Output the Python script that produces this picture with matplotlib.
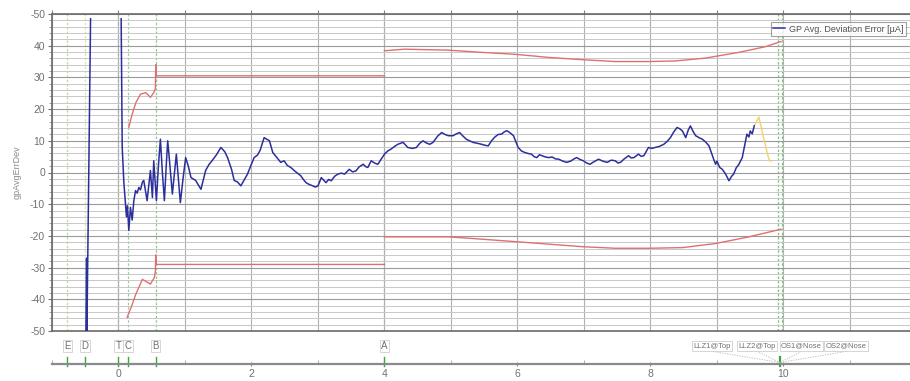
import numpy as np
import matplotlib
matplotlib.use('Agg')
import matplotlib.pyplot as plt
from matplotlib.ticker import MultipleLocator, FixedLocator
import matplotlib.transforms as mtransforms

plt.rcParams['font.family'] = ['Liberation Sans Narrow', 'Liberation Sans', 'DejaVu Sans']

nan = np.nan

# GP average deviation error trace (blue)
gp_x = [-0.49, -0.48, -0.475, -0.42, nan,
        0.04, 0.056, 0.08, 0.105, 0.12, 0.135, 0.155, 0.18, 0.206, 0.23, 0.256, 0.28, 0.306, 0.33, 0.36,
        0.38, 0.43, 0.48, 0.51, 0.53, 0.57, 0.6, 0.63, 0.66, 0.69, 0.72, 0.74, 0.77, 0.81, 0.87, 0.93,
        0.97, 1.01, 1.05, 1.09, 1.16, 1.24, 1.31, 1.36, 1.41, 1.47, 1.54, 1.6, 1.64, 1.7, 1.74, 1.79,
        1.84, 1.94, 1.99, 2.04, 2.09, 2.13, 2.19, 2.27, 2.32, 2.37, 2.44, 2.49, 2.54, 2.59, 2.66, 2.74,
        2.78, 2.82, 2.87, 2.92, 2.96, 3.0, 3.05, 3.09, 3.12, 3.16, 3.2, 3.25, 3.3, 3.35, 3.4, 3.47,
        3.52, 3.57, 3.62, 3.68, 3.72, 3.75, 3.8, 3.85, 3.9, 3.95, 4.0, 4.05, 4.1, 4.15, 4.2, 4.28,
        4.35, 4.42, 4.48, 4.53, 4.58, 4.63, 4.68, 4.73, 4.8, 4.86, 4.91, 4.96, 5.03, 5.08, 5.13, 5.18,
        5.23, 5.28, 5.33, 5.4, 5.46, 5.51, 5.56, 5.61, 5.66, 5.71, 5.76, 5.8, 5.84, 5.89, 5.94, 5.98,
        6.01, 6.06, 6.11, 6.16, 6.21, 6.25, 6.29, 6.33, 6.37, 6.42, 6.47, 6.52, 6.57, 6.62, 6.68, 6.74,
        6.8, 6.85, 6.89, 6.94, 6.99, 7.04, 7.09, 7.15, 7.22, 7.28, 7.35, 7.41, 7.47, 7.51, 7.55, 7.6,
        7.67, 7.71, 7.75, 7.82, 7.86, 7.9, 7.97, 8.02, 8.07, 8.13, 8.2, 8.25, 8.3, 8.35, 8.4, 8.44,
        8.48, 8.53, 8.57, 8.6, 8.64, 8.68, 8.73, 8.78, 8.83, 8.88, 8.92, 8.95, 8.98, 9.0, 9.04, 9.08,
        9.13, 9.18, 9.22, 9.25, 9.29, 9.33, 9.38, 9.42, 9.45, 9.48, 9.5, 9.53, 9.56]
gp_y = [-50, -27, -50, 48.5, nan,
        48.5, 7.9, -3, -10, -14, -10.5, -18.3, -11, -15, -9, -5.7, -6.5, -4.7, -5.5, -3,
        -2.5, -8.9, 0.6, -7.9, 3.7, -8.9, 2, 10.5, 0, -8.9, 3, 10, 3, -6.8, 5.8, -9.5,
        -2, 4.7, 2, -1.6, -2.5, -5.3, 0.6, 2.5, 3.8, 5.5, 7.9, 6.5, 4.7, 1, -2.5, -3,
        -4.2, -0.5, 2.2, 4.7, 5.5, 7, 11, 10, 6.3, 5, 3.2, 3.7, 2.2, 1.6, 0.3, -1,
        -2.2, -3.2, -3.8, -4.2, -4.6, -4.2, -1.6, -2.5, -3.2, -2.2, -2.6, -1.2, -0.5, -0.2, -0.5, 1,
        0.2, 0.5, 1.8, 2.6, 1.8, 1.6, 3.7, 3.0, 2.6, 4.2, 5.8, 6.8, 7.4, 8.2, 8.9, 9.5,
        7.9, 7.6, 7.9, 9.2, 10, 9.3, 8.9, 9.5, 11.5, 12.6, 12, 11.6, 11.6, 12.2, 12.6, 11.5,
        10.5, 10, 9.5, 9.2, 8.9, 8.6, 8.4, 10, 11.2, 12, 12.1, 12.8, 13.2, 12.5, 11.6, 9.5,
        7.9, 6.8, 6.3, 6.0, 5.8, 5.0, 4.7, 5.6, 5.3, 4.9, 4.7, 4.9, 4.3, 4.2, 3.6, 3.2,
        3.6, 4.3, 4.7, 4.1, 3.7, 3.0, 2.6, 3.4, 4.2, 3.6, 3.2, 3.9, 3.7, 3.0, 3.2, 4.2,
        5.3, 4.6, 4.7, 5.8, 5.1, 5.3, 7.9, 7.6, 7.9, 8.2, 8.9, 9.8, 11, 12.8, 14.2, 13.8,
        13.1, 11, 13.5, 14.7, 13, 11.6, 11, 10.5, 9.6, 8.4, 6, 4.2, 2.6, 3.6, 1.6, 1.0,
        -0.5, -2.6, -1.2, -0.5, 1.5, 2.6, 4.7, 9, 12.1, 11.2, 13.1, 12.2, 14.7]

# short yellow tail after the blue trace
tail_x = [9.56, 9.63, 9.7, 9.78, 9.81]
tail_y = [14.7, 17.5, 11, 4.2, 3.5]

# red tolerance bounds
upper_x = [0.155, 0.2, 0.26, 0.33, 0.41, 0.48, 0.53, 0.555, 0.56, 0.565, 4.0, nan,
           4.0, 4.3, 4.96, 5.46, 5.96, 6.47, 6.97, 7.47, 7.97, 8.38, 8.83, 9.33, 9.73, 9.96]
upper_y = [14.2, 18, 22, 24.7, 25.2, 23.7, 25.2, 26.5, 34, 30.5, 30.5, nan,
           38.4, 38.9, 38.6, 37.9, 37.3, 36.3, 35.6, 35.0, 35.0, 35.2, 36.1, 37.9, 39.7, 41.3]
lower_x = [0.13, 0.2, 0.26, 0.36, 0.48, 0.54, 0.555, 0.56, 0.565, 4.0, nan,
           4.0, 4.96, 5.31, 5.96, 6.47, 6.97, 7.47, 7.97, 8.48, 8.98, 9.48, 9.96]
lower_y = [-45.7, -42, -38.4, -33.7, -35.2, -33.1, -31, -26, -29, -29, nan,
           -20.3, -20.3, -20.8, -21.8, -22.6, -23.4, -23.9, -23.9, -23.7, -22.4, -20.3, -17.9]

# events along the track
event_names = ['E', 'D', 'T', 'C', 'B', 'A']
event_x = [-0.77, -0.5, 0.0, 0.14, 0.56, 4.0]
event_colors = ['#b8dca0', '#d6e6a0', '#7a9a7a', '#9ccc9c', '#8fc88f', '#6cbf6c']
llz_names = ['LLZ1@Top', 'LLZ2@Top', 'OS1@Nose', 'OS2@Nose']
llz_x = 9.95

ytick_vals = [-50, -40, -30, -20, -10, 0, 10, 20, 30, 40, 50]
ytick_labels = ['-50', '-40', '-30', '-20', '-10', '0', '10', '20', '30', '40', '-50']
xtick_vals = [0, 2, 4, 6, 8, 10, 12]

W, H = 910, 381
fig = plt.figure(figsize=(W / 100, H / 100), dpi=100)
ax = fig.add_axes([52 / W, (H - 331) / H, (W - 52) / W + 0.002, (331 - 14) / H])
ax.set_xlim(-1.0, 11.93)
ax.set_ylim(-50, 50)

# grid
ax.set_yticks(ytick_vals)
ax.set_yticklabels(ytick_labels)
ax.yaxis.set_minor_locator(MultipleLocator(2))
ax.xaxis.set_major_locator(MultipleLocator(1))
ax.grid(which='major', axis='y', color='#9a9a9a', lw=0.8)
ax.grid(which='minor', axis='y', color='#c8c8c8', lw=0.7)
ax.grid(which='major', axis='x', color='#b0b0b0', lw=0.8)
ax.tick_params(axis='x', which='both', labelbottom=False, bottom=False, top=True,
               direction='out', length=3, color='#808080')
ax.tick_params(axis='y', which='major', labelsize=7.5, labelcolor='#707070', color='#707070',
               length=3, direction='out', pad=2)
ax.tick_params(axis='y', which='minor', length=2, color='#909090', direction='out')
for s in ['top', 'bottom', 'left']:
    ax.spines[s].set_color('#6a6a6a')
    ax.spines[s].set_linewidth(1.2)
ax.spines['right'].set_visible(False)
ax.set_ylabel('gpAvgErrDev', fontsize=6.5, color='#8a8a8a', labelpad=6)

# event lines
for ex, ec in zip(event_x, event_colors):
    ax.axvline(ex, color=ec, lw=0.9, ls=(0, (2, 1.5)), zorder=1.5)
ax.axvline(llz_x - 0.025, color='#7cc47c', lw=0.9, ls=(0, (2, 1.5)), zorder=1.5)
ax.axvline(llz_x + 0.025, color='#7cc47c', lw=0.9, ls=(0, (2, 1.5)), zorder=1.5)

ax.plot(upper_x, upper_y, color='#e07070', lw=1.0, zorder=3)
ax.plot(lower_x, lower_y, color='#e07070', lw=1.0, zorder=3)
ax.plot(tail_x, tail_y, color='#f2d36a', lw=1.0, zorder=3)
ax.plot(gp_x, gp_y, color='#2b2f9c', lw=1.1, zorder=4, label='GP Avg. Deviation Error [µA]')

leg = ax.legend(loc='upper right', bbox_to_anchor=(0.993, 0.975), fontsize=6.5, frameon=True,
                fancybox=False, borderpad=0.3, handlelength=1.3, handletextpad=0.4,
                borderaxespad=0)
leg.get_frame().set_edgecolor('#8a8a8a')
leg.get_frame().set_linewidth(0.8)
for t in leg.get_texts():
    t.set_color('#505050')

# event axis below
ax2 = fig.add_axes([52 / W, (H - 364) / H, (W - 52) / W + 0.002, 30 / H])
ax2.set_xlim(ax.get_xlim())
ax2.set_ylim(0, 1)
ax2.set_yticks([])
ax2.xaxis.set_major_locator(FixedLocator(xtick_vals))
ax2.xaxis.set_minor_locator(MultipleLocator(1))
ax2.tick_params(axis='x', which='major', labelsize=7.5, labelcolor='#707070', color='#8a8a8a',
                length=3, direction='inout', pad=2)
ax2.tick_params(axis='x', which='minor', length=3, color='#a0a0a0', direction='in')
for s in ['top', 'left', 'right']:
    ax2.spines[s].set_visible(False)
ax2.spines['bottom'].set_color('#8a8a8a')
ax2.spines['bottom'].set_linewidth(1.6)
ax2.patch.set_alpha(0)

trans = mtransforms.blended_transform_factory(ax2.transData, ax2.transAxes)
box = dict(boxstyle='square,pad=0.15', fc='white', ec='#cfcfcf', lw=0.6)
for name, ex in zip(event_names, event_x):
    ax2.plot([ex, ex], [-0.08, 0.22], color='#3aa83a', lw=1.0, transform=trans, clip_on=False)
    ax2.text(ex, 0.6, name, transform=trans, ha='center', va='center', fontsize=7,
             color='#707070', bbox=box)
ax2.plot([llz_x, llz_x], [-0.08, 0.22], color='#3aa83a', lw=1.6, transform=trans, clip_on=False)
for i, name in enumerate(llz_names):
    lx = 8.93 + 0.67 * i
    ax2.text(lx, 0.6, name, transform=trans, ha='center', va='center', fontsize=5.5,
             color='#707070', bbox=box)
    ax2.plot([lx, llz_x], [0.42, 0.05], color='#b8b8b8', lw=0.6, ls=(0, (1.5, 1.5)),
             transform=trans, clip_on=False)

fig.savefig('out.png', dpi=100)
